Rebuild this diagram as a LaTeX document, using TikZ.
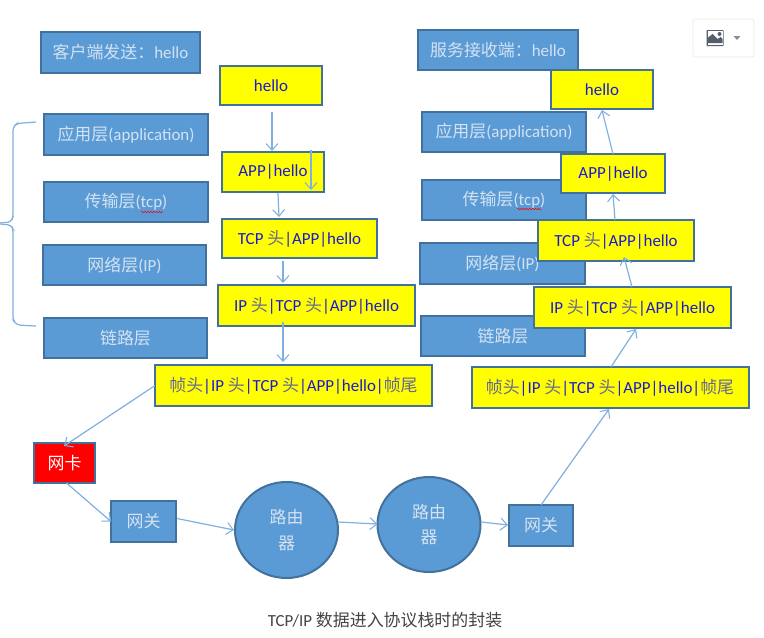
\documentclass[tikz,border=0pt]{standalone}
\usepackage{fontspec}
\setmainfont{Carlito}
\newfontfamily\cjk{Noto Sans CJK SC}
\usetikzlibrary{arrows.meta,shapes.geometric,decorations.pathmorphing}
\definecolor{bfill}{HTML}{5B9BD5}
\definecolor{bline}{HTML}{41719C}
\definecolor{btext}{HTML}{D3E2F2}
\definecolor{yfill}{HTML}{FFFF00}
\definecolor{rfill}{HTML}{FF0000}
\definecolor{ytext}{HTML}{1A1AD6}
\definecolor{ycjk}{HTML}{66669A}
\definecolor{arr}{HTML}{7FB0DF}
\definecolor{cap}{HTML}{444444}
\definecolor{icon}{HTML}{565E6C}
\newcommand{\zh}[1]{{\cjk #1}}
\newcommand{\yz}[1]{{\cjk\color{ycjk}#1}}
\tikzset{
  sz/.style 2 args={minimum width=#1*0.75pt,minimum height=#2*0.75pt},
  base/.style={inner sep=0pt,outer sep=0pt,line width=1.5pt,align=center},
  bluebox/.style={base,draw=bline,fill=bfill,text=btext,font=\fontsize{12.7}{14}\selectfont},
  yelbox/.style={base,draw=bline,fill=yfill,text=ytext,font=\fontsize{12.7}{14}\selectfont},
  redbox/.style={base,draw=bline,fill=rfill,text=white,font=\fontsize{12.7}{14}\selectfont},
  router/.style={base,ellipse,draw=bline,fill=bfill,text=btext,font=\fontsize{12.7}{19}\selectfont},
  conn/.style={draw=arr,line width=0.9pt,-{Straight Barb[length=5pt,width=9pt,line width=0.8pt]}},
  squig/.style={draw=rfill,line width=0.4pt,decorate,decoration={snake,amplitude=0.5pt,segment length=2.2pt}}
}
\begin{document}
\begin{tikzpicture}[x=0.75pt,y=-0.75pt]
\useasboundingbox (0,0) rectangle (764,637);
\fill[white] (0,0) rectangle (764,637);
% toolbar widget
\node[inner sep=0pt,outer sep=0pt,sz={61}{38},draw=black!8,line width=0.5pt,fill=white,rounded corners=1.5pt] (widget) at (723.5,38) {};
\fill[icon,rounded corners=0.5pt] ([shift={(-17,-8)}]widget.center) rectangle ([shift={(0,8)}]widget.center);
\fill[white] ([shift={(-16,-7)}]widget.center) rectangle ([shift={(-1,7)}]widget.center);
\fill[icon] ([shift={(-16,5)}]widget.center) -- ([shift={(-16,0)}]widget.center) -- ([shift={(-11,-4)}]widget.center) -- ([shift={(-6,1)}]widget.center) -- ([shift={(-3,-1)}]widget.center) -- ([shift={(-1,1)}]widget.center) -- ([shift={(-1,5)}]widget.center) -- cycle;
\fill[icon] ([shift={(-4,-4)}]widget.center) circle[radius=1.5pt];
\fill[black!45] ([shift={(10,-2)}]widget.center) -- ([shift={(17,-2)}]widget.center) -- ([shift={(13.5,2)}]widget.center) -- cycle;
% brace
\draw[arr,line width=0.9pt,rounded corners=2.5pt] (36,122) -- (17,123.5) -- (13,127) -- (13,217) -- (11,222) -- (0,223);
\draw[arr,line width=0.9pt,rounded corners=2.5pt] (0,224) -- (11,225) -- (13,229) -- (13,320) -- (17,325) -- (36,326);
% blue label boxes
\node[bluebox,sz={159}{41}] (cl) at (120.5,52.5) {\zh{客户端发送：}hello};
\node[bluebox,sz={164}{41}] (la) at (126,134.5) {\zh{应用层}(application)};
\node[bluebox,sz={164}{40}] (lt) at (126,202) {\zh{传输层}(tcp)};
\node[bluebox,sz={163}{40}] (ln) at (124.5,265) {\zh{网络层}(IP)};
\node[bluebox,sz={163}{40}] (ll) at (125.5,338) {\zh{链路层}};
\node[bluebox,sz={160}{40}] (sv) at (498,50) {\zh{服务接收端：}hello};
\node[bluebox,sz={164}{40}] (ra) at (504,132) {\zh{应用层}(application)};
\node[bluebox,sz={164}{40}] (rt) at (504,200) {\zh{传输层}(tcp)};
\node[bluebox,sz={165}{41}] (rn) at (502.5,263.5) {\zh{网络层}(IP)};
\node[bluebox,sz={164}{40}] (rl) at (503,336) {\zh{链路层}};
\draw[squig] (141,212) -- (163,212);
\draw[squig] (517,209) -- (541,209);
% yellow, left stack
\node[yelbox,sz={102}{39}] (y1) at (271,85.5) {hello};
\node[yelbox,sz={102}{40}] (y2) at (273,172) {APP|hello};
\node[yelbox,sz={155}{39}] (y3) at (299.5,238.5) {TCP \yz{头}|APP|hello};
\node[yelbox,sz={197}{41}] (y4) at (316.5,305.5) {IP \yz{头}|TCP \yz{头}|APP|hello};
\node[yelbox,sz={277}{41}] (y5) at (293.5,385.5) {\yz{帧头}|IP \yz{头}|TCP \yz{头}|APP|hello|\yz{帧尾}};
% yellow, right stack
\node[yelbox,sz={102}{39}] (r1) at (602,89.5) {hello};
\node[yelbox,sz={104}{39}] (r2) at (613,173.5) {APP|hello};
\node[yelbox,sz={156}{41}] (r3) at (616,240.5) {TCP \yz{头}|APP|hello};
\node[yelbox,sz={197}{41}] (r4) at (632.5,307.5) {IP \yz{头}|TCP \yz{头}|APP|hello};
\node[yelbox,sz={277}{41}] (r5) at (610,387.5) {\yz{帧头}|IP \yz{头}|TCP \yz{头}|APP|hello|\yz{帧尾}};
% bottom row
\node[redbox,sz={61}{40}] (nic) at (64.5,463) {\zh{网卡}};
\node[bluebox,sz={65}{41}] (g1) at (143.5,521.5) {\zh{网关}};
\node[router,sz={103}{96}] (c1) at (286.5,530) {\zh{路由}\\\zh{器}};
\node[router,sz={103}{95}] (c2) at (429,524.5) {\zh{路由}\\\zh{器}};
\node[bluebox,sz={64}{41}] (g2) at (541,525.5) {\zh{网关}};
% connectors, left
\draw[conn] ([shift={(1,7)}]y1.south) -- ([shift={(-1,-1)}]y2.north);
\draw[conn] ([shift={(38,-2)}]y2.north) -- ([shift={(38,-2)}]y2.south);
\draw[conn] ([shift={(5,1)}]y2.south) -- ([shift={(-20.5,-2)}]y3.north);
\draw[conn] ([shift={(-16.5,3)}]y3.south) -- ([shift={(-33.5,-2)}]y4.north);
\draw[conn] ([shift={(-33.5,-4)}]y4.south) -- ([shift={(-10.5,-3)}]y5.north);
\draw[conn] (y5.west) -- ([shift={(-0.5,3)}]nic.north);
\draw[conn] ([shift={(2,0)}]nic.south) -- (g1.west);
\draw[conn] ([shift={(1,-3)}]g1.east) -- ([shift={(-1,0)}]c1.west);
\draw[conn] ([shift={(0,-8)}]c1.east) -- ([shift={(0,-0.5)}]c2.west);
\draw[conn] ([shift={(1,-2.5)}]c2.east) -- ([shift={(-1,-0.5)}]g2.west);
% connectors, right
\draw[conn] (g2.north) -- ([shift={(-1,1)}]r5.south);
\draw[conn] ([shift={(1,0)}]r5.north) -- ([shift={(3.5,1)}]r4.south);
\draw[conn] ([shift={(-0.5,0)}]r4.north) -- ([shift={(8,-4)}]r3.south);
\draw[conn] ([shift={(-1,0)}]r3.north) -- ([shift={(0,1)}]r2.south);
\draw[conn] (r2.north) -- ([shift={(0,1)}]r1.south);
% caption
\node[inner sep=0pt,text=cap,font=\fontsize{12.7}{14}\selectfont] (caption) at (385,620) {TCP/IP \zh{数据进入协议栈时的封装}};
\end{tikzpicture}
\end{document}
